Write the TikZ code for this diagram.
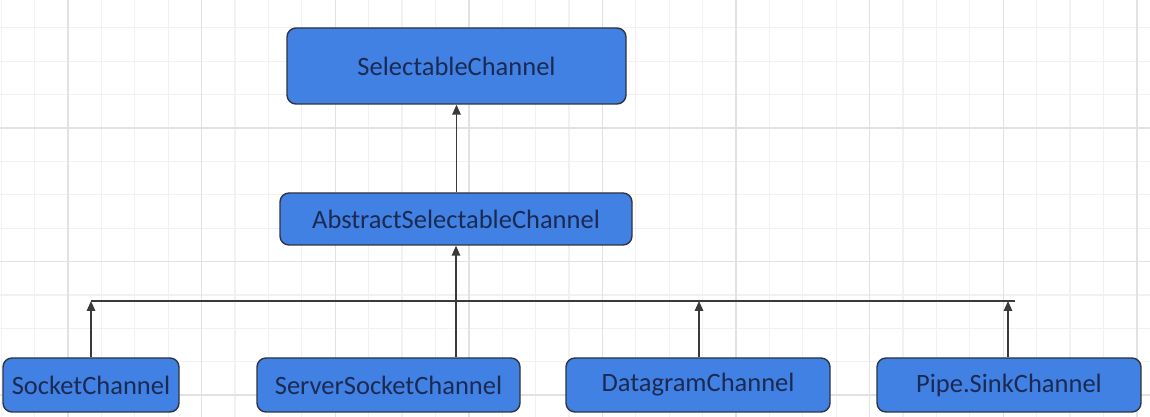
\documentclass[tikz,border=0pt]{standalone}
\usepackage{fontspec}
\setmainfont{Carlito}
\usetikzlibrary{arrows.meta}
\definecolor{boxblue}{HTML}{4281E4}
\definecolor{boxedge}{HTML}{2E3440}
\definecolor{boxtext}{HTML}{1B2A52}
\definecolor{wire}{HTML}{3A3A3A}
\definecolor{gridminor}{HTML}{F1F1F1}
\definecolor{gridmajor}{HTML}{E2E2E2}
\tikzset{
  classbox/.style={draw=boxedge, line width=1.4pt, fill=boxblue, rounded corners=9pt,
    text=boxtext, inner sep=0pt, font=\fontsize{26.5}{30}\selectfont},
  wireline/.style={draw=wire, line width=1.5pt},
  inherit/.style={wireline, -{Triangle[length=10pt,width=8.5pt]}},
}
\begin{document}
\begin{tikzpicture}[x=1pt,y=1pt]
  \useasboundingbox (0,0) rectangle (1150,417);
  \fill[white] (0,0) rectangle (1150,417);
  % background grid: fine lines, with a heavier line every fourth
  \foreach \k in {0,...,34} {
    \draw[gridminor, line width=1.2pt] ({1.2+33.4*\k},0) -- ({1.2+33.4*\k},417);
  }
  \foreach \k in {0,...,11} {
    \draw[gridminor, line width=1.2pt] (0,{417-27.8-33.4*\k}) -- (1150,{417-27.8-33.4*\k});
  }
  \foreach \k in {0,...,8} {
    \draw[gridmajor, line width=1.4pt] ({68+133.6*\k},0) -- ({68+133.6*\k},417);
  }
  \foreach \k in {0,...,2} {
    \draw[gridmajor, line width=1.4pt] (0,{289-133.6*\k}) -- (1150,{289-133.6*\k});
  }

  % class boxes
  \node[classbox, minimum width=339pt, minimum height=76pt] (sel) at (456.5,351) {SelectableChannel};
  \node[classbox, minimum width=352pt, minimum height=52pt] (abs) at (456,198) {AbstractSelectableChannel};
  \node[classbox, minimum width=176pt, minimum height=54pt] (sock) at (91,32) {SocketChannel};
  \node[classbox, minimum width=263pt, minimum height=54pt] (ssock) at (388.5,32) {ServerSocketChannel};
  \node[classbox, minimum width=264pt, minimum height=54pt] (dgram) at (698,32) {DatagramChannel};
  \node[classbox, minimum width=264pt, minimum height=54pt] (pipe) at (1009,32) {Pipe.SinkChannel};

  % inheritance connectors
  \coordinate (busL) at (91,116);
  \coordinate (busR) at (1015,116);
  \draw[inherit] (abs.north -| sel.south) -- (sel.south);
  \draw[inherit] (ssock.north -| abs.south) -- (abs.south);
  \draw[wireline] (busL) -- (busR);
  \draw[inherit] (sock.north) -- (sock.north |- busL);
  \draw[inherit] ([xshift=1pt]dgram.north) -- ([xshift=1pt]dgram.north |- busL);
  \draw[inherit] ([xshift=-1pt]pipe.north) -- ([xshift=-1pt]pipe.north |- busL);
\end{tikzpicture}
\end{document}
